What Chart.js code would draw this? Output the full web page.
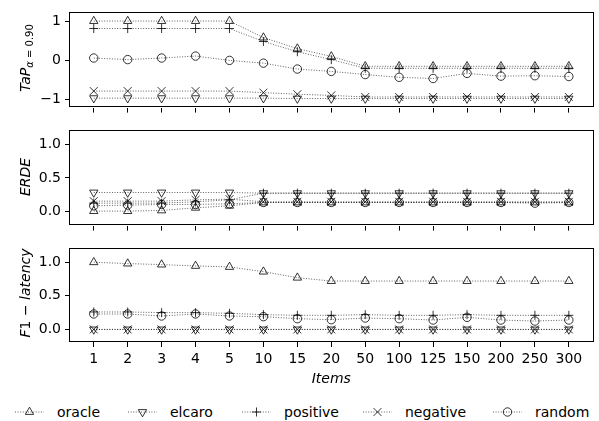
<!DOCTYPE html>
<html>
<head>
<meta charset="utf-8">
<script src="https://cdn.jsdelivr.net/npm/chart.js@4.4.1/dist/chart.umd.min.js"></script>
<style>
  body { margin: 0; background: #fff; }
  #wrap { position: relative; width: 599px; height: 421px; overflow: hidden; font-family: 'DejaVu Sans', sans-serif; }
  canvas.panel { position: absolute; left: 0; }
  .ylab { position: absolute; transform: translate(-50%, -50%) rotate(-90deg); font-size: 14px; white-space: nowrap; line-height: 1; color: #000; }
  .ylab sub { font-size: 10px; vertical-align: -3px; font-style: normal; }
  .leg { position: absolute; top: 403px; height: 18px; display: flex; align-items: center; font-size: 14px; color: #000; }
  .leg canvas { margin-right: 13px; }
</style>
</head>
<body>
<div id="wrap">
  <canvas class="panel" id="c1" width="599" height="120" style="top:0px"></canvas>
  <canvas class="panel" id="c2" width="599" height="120" style="top:118px"></canvas>
  <canvas class="panel" id="c3" width="599" height="152" style="top:236px"></canvas>

  <div class="ylab" style="left:26px; top:58px"><i>TaP</i><sub><i>α</i> = 0.90</sub></div>
  <div class="ylab" style="left:25px; top:177px"><i>ERDE</i></div>
  <div class="ylab" style="left:25px; top:293px"><i>F</i>1 − <i>latency</i></div>

  <div id="legend"></div>
</div>

<script>
//x轴类别
var items = ['1', '2', '3', '4', '5', '10', '15', '20', '50', '100', '125', '150', '200', '250', '300'];
var seriesNames = ['oracle', 'elcaro', 'positive', 'negative', 'random'];

//TaP
var tapOracle   = [1, 1, 1, 1, 1, 0.58, 0.30, 0.10, -0.15, -0.15, -0.15, -0.15, -0.15, -0.15, -0.15];
var tapElcaro   = [-0.96, -0.96, -0.96, -0.96, -0.96, -0.96, -0.97, -0.97, -0.97, -0.97, -0.97, -0.97, -0.97, -0.97, -0.97];
var tapPositive = [0.81, 0.81, 0.81, 0.81, 0.81, 0.48, 0.22, 0.02, -0.20, -0.20, -0.20, -0.20, -0.20, -0.20, -0.20];
var tapNegative = [-0.78, -0.78, -0.78, -0.78, -0.78, -0.82, -0.86, -0.89, -0.93, -0.93, -0.93, -0.93, -0.93, -0.93, -0.93];
var tapRandom   = [0.06, 0.02, 0.06, 0.11, 0.0, -0.07, -0.22, -0.28, -0.36, -0.43, -0.46, -0.33, -0.40, -0.39, -0.41];

//ERDE
var erdeOracle   = [0.0, 0.0, 0.01, 0.05, 0.08, 0.13, 0.13, 0.13, 0.13, 0.13, 0.13, 0.13, 0.13, 0.13, 0.13];
var erdeElcaro   = [0.28, 0.28, 0.28, 0.28, 0.28, 0.27, 0.27, 0.27, 0.27, 0.27, 0.27, 0.27, 0.27, 0.27, 0.27];
var erdePositive = [0.12, 0.12, 0.12, 0.14, 0.17, 0.27, 0.27, 0.27, 0.27, 0.27, 0.27, 0.27, 0.27, 0.27, 0.27];
var erdeNegative = [0.15, 0.15, 0.15, 0.17, 0.18, 0.14, 0.14, 0.14, 0.14, 0.14, 0.14, 0.14, 0.14, 0.14, 0.14];
var erdeRandom   = [0.08, 0.09, 0.10, 0.10, 0.11, 0.13, 0.13, 0.13, 0.13, 0.13, 0.13, 0.13, 0.13, 0.12, 0.13];

//F1 - latency
var f1Oracle   = [1.0, 0.98, 0.965, 0.945, 0.93, 0.86, 0.77, 0.72, 0.72, 0.72, 0.72, 0.72, 0.72, 0.72, 0.72];
var f1Elcaro   = [0, 0, 0, 0, 0, 0, 0, 0, 0, 0, 0, 0, 0, 0, 0];
var f1Positive = [0.26, 0.26, 0.25, 0.25, 0.24, 0.22, 0.21, 0.21, 0.22, 0.21, 0.21, 0.22, 0.21, 0.21, 0.21];
var f1Negative = [0, 0, 0, 0, 0, 0, 0, 0, 0, 0, 0, 0, 0, 0, 0];
var f1Random   = [0.23, 0.23, 0.20, 0.23, 0.20, 0.19, 0.16, 0.145, 0.17, 0.16, 0.14, 0.18, 0.14, 0.125, 0.14];

//marker样式
var markers = [
    { pointStyle: 'triangle', radius: 4.8, rotation: 0 },
    { pointStyle: 'triangle', radius: 4.8, rotation: 180 },
    { pointStyle: 'cross', radius: 4.5, rotation: 0 },
    { pointStyle: 'crossRot', radius: 5.6, rotation: 0 },
    { pointStyle: 'circle', radius: 4.2, rotation: 0 },
];
var lineColor = 'rgba(0,0,0,0.7)';
var markColor = '#000';

Chart.defaults.font.family = "'DejaVu Sans', sans-serif";
Chart.defaults.font.size = 14;
Chart.defaults.color = '#000';

//外框
var framePlugin = {
    id: 'frame',
    afterDraw(chart) {
        let a = chart.chartArea, ctx = chart.ctx
        ctx.save()
        ctx.strokeStyle = '#000'
        ctx.lineWidth = 1
        ctx.strokeRect(Math.round(a.left) - 0.5, Math.round(a.top) + 0.5,
            Math.round(a.right - a.left) + 1, Math.round(a.bottom - a.top) - 1)
        ctx.restore()
    }
}

function makeDatasets(list) {
    return list.map((vals, k) => ({
        label: seriesNames[k],
        data: vals.map((v, i) => ({ x: i, y: v })),
        borderColor: lineColor,
        borderWidth: 0.9,
        borderDash: [1, 1.6],
        pointStyle: markers[k].pointStyle,
        pointRadius: markers[k].radius,
        pointRotation: markers[k].rotation,
        pointBorderColor: markColor,
        pointBackgroundColor: 'rgba(0,0,0,0)',
        pointBorderWidth: 0.8,
        fill: false,
        tension: 0,
    }))
}

function makePanel(id, list, ymin, ymax, yticks, yfmt, xHeight, bottom) {
    let ctx = document.getElementById(id).getContext('2d')
    return new Chart(ctx, {
        type: 'line',
        data: { datasets: makeDatasets(list) },
        options: {
            responsive: false,
            animation: false,
            devicePixelRatio: 1,
            layout: { padding: { top: 9, right: 4, left: 0, bottom: 0 } },
            plugins: { legend: { display: false }, tooltip: { enabled: false } },
            scales: {
                x: {
                    type: 'linear',
                    min: -0.7,
                    max: 14.7,
                    afterBuildTicks: s => { s.ticks = items.map((_, i) => ({ value: i })) },
                    afterFit: s => { s.height = xHeight },
                    border: { display: false },
                    grid: { drawOnChartArea: false, drawTicks: true, tickLength: 5, color: '#000', lineWidth: 1 },
                    ticks: {
                        display: bottom,
                        padding: 4,
                        maxRotation: 0,
                        autoSkip: false,
                        callback: v => items[v],
                    },
                    title: {
                        display: bottom,
                        text: 'Items',
                        font: { style: 'italic', size: 14 },
                        padding: { top: 0, bottom: 0 },
                    },
                },
                y: {
                    min: ymin,
                    max: ymax,
                    afterBuildTicks: s => { s.ticks = yticks.map(v => ({ value: v })) },
                    afterFit: s => { s.width = 70 },
                    border: { display: false },
                    grid: { drawOnChartArea: false, drawTicks: true, tickLength: 5, color: '#000', lineWidth: 1 },
                    ticks: { padding: 4, callback: yfmt },
                },
            },
        },
        plugins: [framePlugin],
    })
}

var fmtInt = v => (v < 0 ? '\u2212' + Math.abs(v) : '' + v)
var fmt1 = v => v.toFixed(1)

makePanel('c1', [tapOracle, tapElcaro, tapPositive, tapNegative, tapRandom], -1.2, 1.22, [-1, 0, 1], fmtInt, 11, false)
makePanel('c2', [erdeOracle, erdeElcaro, erdePositive, erdeNegative, erdeRandom], -0.218, 1.214, [0, 0.5, 1], fmt1, 12, false)
makePanel('c3', [f1Oracle, f1Elcaro, f1Positive, f1Negative, f1Random], -0.187, 1.206, [0, 0.5, 1], fmt1, 46, true)

//图例
var legLeft = [15, 128, 242, 363, 493]
var legend = document.getElementById('legend')
seriesNames.forEach((name, k) => {
    let div = document.createElement('div')
    div.className = 'leg'
    div.style.left = legLeft[k] + 'px'
    let cv = document.createElement('canvas')
    cv.width = 29
    cv.height = 18
    div.appendChild(cv)
    div.appendChild(document.createTextNode(name))
    legend.appendChild(div)

    let c = cv.getContext('2d')
    c.strokeStyle = lineColor
    c.lineWidth = 0.9
    c.setLineDash([1, 1.6])
    c.beginPath()
    c.moveTo(0, 9)
    c.lineTo(29, 9)
    c.stroke()
    c.setLineDash([])
    c.strokeStyle = markColor
    c.fillStyle = 'rgba(0,0,0,0)'
    c.lineWidth = 0.8
    Chart.helpers.drawPoint(c, {
        pointStyle: markers[k].pointStyle,
        radius: markers[k].radius,
        rotation: markers[k].rotation,
        borderWidth: 0.8,
    }, 14.5, 9)
})
</script>
</body>
</html>
